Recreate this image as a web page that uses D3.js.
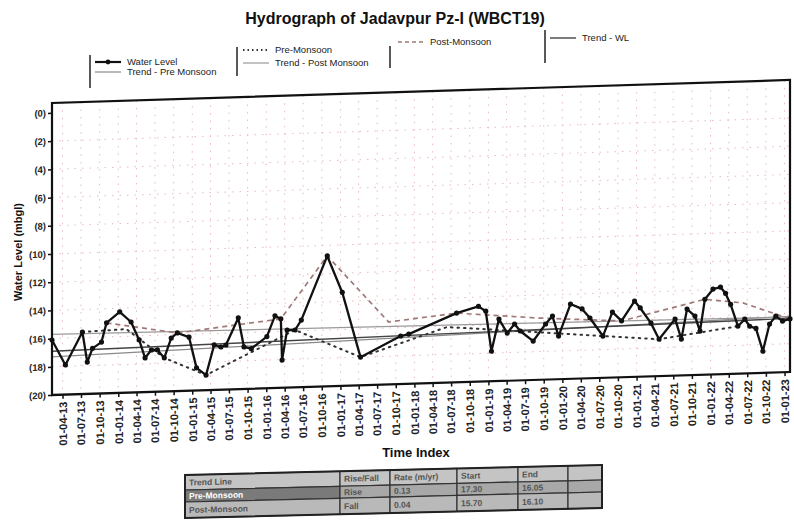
<!DOCTYPE html>
<html>
<head>
<meta charset="utf-8">
<script src="https://cdn.jsdelivr.net/npm/d3@7"></script>
<style>
  body { margin: 0; background: #fff; }
  text { font-family: "Liberation Sans", Arial, sans-serif; }
</style>
</head>
<body>
<svg id="chart" width="794" height="524"></svg>
<script>
// water level readings (mbgl)
const wlDates = [
  "2013-02-08","2013-04-15","2013-07-08","2013-08-01","2013-08-27","2013-10-10","2013-11-04","2014-01-08","2014-03-05","2014-04-14",
  "2014-05-13","2014-06-13","2014-07-13","2014-08-16","2014-09-19","2014-10-19","2014-12-16","2015-01-22","2015-03-10","2015-04-19",
  "2015-05-22","2015-06-16","2015-08-16","2015-09-13","2015-10-19","2016-01-04","2016-02-13","2016-03-13","2016-03-19","2016-04-13",
  "2016-05-22","2016-06-22","2016-10-28","2017-01-10","2017-04-10","2017-10-25","2017-12-04","2018-07-28","2018-11-13","2018-12-19",
  "2019-01-16","2019-02-22","2019-04-04","2019-05-10","2019-06-07","2019-08-10","2019-10-10","2019-11-13","2019-12-13","2020-02-10",
  "2020-04-07","2020-05-16","2020-07-19","2020-09-04","2020-10-19","2020-12-22","2021-01-19","2021-03-13","2021-04-22","2021-07-10",
  "2021-08-10","2021-09-07","2021-10-16","2021-11-10","2021-12-04","2022-01-13","2022-02-19","2022-03-16","2022-04-10","2022-05-16",
  "2022-06-19","2022-07-13","2022-08-13","2022-09-16","2022-10-19","2022-11-19","2022-12-22","2023-01-28"]
const wlValues = [
  16.10,17.90,15.60,17.75,16.78,16.36,15.01,14.26,15.00,16.29,
  17.58,17.03,17.04,17.62,16.23,15.88,16.20,18.40,18.93,16.81,
  16.97,16.84,14.95,17.02,17.16,16.34,14.89,15.11,18.04,15.92,
  15.93,15.24,10.75,13.37,18.00,16.59,16.47,15.09,14.66,15.02,
  17.87,15.60,16.62,15.99,16.50,17.24,16.06,15.51,16.94,14.70,
  15.07,15.73,17.04,15.36,16.01,14.63,15.13,16.23,17.39,15.99,
  17.43,15.31,15.83,16.91,14.66,13.96,13.83,14.29,15.08,16.64,
  16.16,16.67,16.84,18.47,16.56,16.01,16.38,16.24]

const preDates = ["2013-07-08","2014-02-10","2014-08-16","2015-03-10","2016-05-22","2017-04-10","2018-06-10","2018-12-07","2020-07-19","2021-04-22","2022-05-16"]
const preValues = [15.60,15.49,17.62,18.93,15.93,18.00,16.06,16.28,17.04,17.39,16.64]

const postDates = ["2013-11-04","2014-10-19","2016-03-13","2016-10-28","2017-08-27","2018-07-28","2019-09-04","2020-10-19","2021-12-04","2022-06-10","2023-01-28"]
const postValues = [15.01,15.88,15.11,10.75,15.57,15.09,15.62,16.01,14.66,15.00,16.24]

// trend lines, value at start and end of the record
const trendDates = ["2013-02-08","2023-01-28"]
const trendWL = [16.9, 16.2]
const trendPre = [17.3, 16.05]
const trendPost = [15.7, 16.1]

const yTicks = [0,2,4,6,8,10,12,14,16,18,20]
const yTickLabels = ["(0)","(2)","(4)","(6)","(8)","(10)","(12)","(14)","(16)","(18)","(20)"]
const xTickLabels = [
  "01-04-13","01-07-13","01-10-13","01-01-14","01-04-14","01-07-14","01-10-14","01-01-15","01-04-15","01-07-15",
  "01-10-15","01-01-16","01-04-16","01-07-16","01-10-16","01-01-17","01-04-17","01-07-17","01-10-17","01-01-18",
  "01-04-18","01-07-18","01-10-18","01-01-19","01-04-19","01-07-19","01-10-19","01-01-20","01-04-20","01-07-20",
  "01-10-20","01-01-21","01-04-21","01-07-21","01-10-21","01-01-22","01-04-22","01-07-22","01-10-22","01-01-23"]

const tableHead = ["Trend Line","Rise/Fall","Rate (m/yr)","Start","End",""]
const tableRowNames = ["Pre-Monsoon","Post-Monsoon"]

const parse = d3.timeParse("%Y-%m-%d")
const parseTick = d3.timeParse("%d-%m-%y")
const svg = d3.select("#chart")

const x = d3.scaleTime().domain([parse("2013-02-08"), parse("2023-01-28")]).range([52, 790])
const y = d3.scaleLinear().domain([-0.7, 20]).range([103, 395])

// the photographed sheet leans up to the right
const tilt = -0.0312
const plot = svg.append("g").attr("transform", `matrix(1,${tilt},0,1,0,${-tilt * 52})`)

const pts = (ds, vs) => ds.map((d, i) => ({date: parse(d), v: vs[i]}))
const wl = pts(wlDates, wlValues)
const pre = pts(preDates, preValues)
const post = pts(postDates, postValues)
const line = d3.line().x(d => x(d.date)).y(d => y(d.v))

// grid
const tickDates = xTickLabels.map(s => parseTick(s))
plot.append("g").selectAll("line").data(tickDates).join("line")
  .attr("x1", d => x(d)).attr("x2", d => x(d)).attr("y1", 103).attr("y2", 395)
  .attr("stroke", "#e8bcbc").attr("stroke-width", 1).attr("stroke-dasharray", "1.5,6")
plot.append("g").selectAll("line").data(yTicks.slice(1, -1)).join("line")
  .attr("x1", 52).attr("x2", 790).attr("y1", d => y(d)).attr("y2", d => y(d))
  .attr("stroke", "#e8bcbc").attr("stroke-width", 1).attr("stroke-dasharray", "1.5,6")

// axes
const yAxis = plot.append("g").attr("transform", "translate(52,0)")
  .call(d3.axisLeft(y).tickValues(yTicks).tickFormat((d, i) => yTickLabels[i]).tickSize(4).tickPadding(2))
yAxis.select(".domain").remove()
yAxis.selectAll("text").attr("font-size", 9.5).attr("font-weight", "bold").attr("fill", "#222")
yAxis.selectAll("line").attr("stroke", "#111").attr("stroke-width", 1.5)

const xAxis = plot.append("g").attr("transform", "translate(0,395)")
  .call(d3.axisBottom(x).tickValues(tickDates).tickFormat((d, i) => xTickLabels[i]).tickSize(4))
xAxis.select(".domain").remove()
xAxis.selectAll("line").attr("stroke", "#111").attr("stroke-width", 1.5)
xAxis.selectAll("text")
  .attr("y", 0).attr("x", -7).attr("dy", "0.35em")
  .attr("transform", "rotate(-90)").style("text-anchor", "end")
  .attr("font-size", 11).attr("font-weight", "bold").attr("fill", "#222")

// trends
const trend = vals => trendDates.map((d, i) => ({date: parse(d), v: vals[i]}))
plot.append("path").datum(trend(trendPre)).attr("d", line)
  .attr("fill", "none").attr("stroke", "#8a8a8a").attr("stroke-width", 1.2)
plot.append("path").datum(trend(trendPost)).attr("d", line)
  .attr("fill", "none").attr("stroke", "#9a9a9a").attr("stroke-width", 1.2)
plot.append("path").datum(trend(trendWL)).attr("d", line)
  .attr("fill", "none").attr("stroke", "#444").attr("stroke-width", 1.4)

// seasonal series
plot.append("path").datum(post).attr("d", line)
  .attr("fill", "none").attr("stroke", "#a07878").attr("stroke-width", 1.7).attr("stroke-dasharray", "5,4")
plot.append("path").datum(pre).attr("d", line)
  .attr("fill", "none").attr("stroke", "#333").attr("stroke-width", 2).attr("stroke-dasharray", "1.5,5")
  .attr("stroke-linecap", "round")

// water level
plot.append("path").datum(wl).attr("d", line)
  .attr("fill", "none").attr("stroke", "#111").attr("stroke-width", 2.3).attr("stroke-linejoin", "round")
plot.append("g").selectAll("circle").data(wl).join("circle")
  .attr("cx", d => x(d.date)).attr("cy", d => y(d.v)).attr("r", 2.6).attr("fill", "#111")

// frame
plot.append("rect").attr("x", 52).attr("y", 103).attr("width", 738).attr("height", 292)
  .attr("fill", "none").attr("stroke", "#111").attr("stroke-width", 2.2)

// title and axis titles
svg.append("text").attr("x", 395).attr("y", 24).attr("text-anchor", "middle")
  .attr("font-size", 16).attr("font-weight", "bold").attr("fill", "#111")
  .text("Hydrograph of Jadavpur Pz-I (WBCT19)")
svg.append("text").attr("transform", "translate(22,252) rotate(-90)").attr("text-anchor", "middle")
  .attr("font-size", 11).attr("font-weight", "bold").attr("fill", "#111")
  .text("Water Level (mbgl)")
svg.append("text").attr("x", 416).attr("y", 457).attr("text-anchor", "middle")
  .attr("font-size", 13).attr("font-weight", "bold").attr("fill", "#111")
  .text("Time Index")

// legend
const leg = svg.append("g")
const sep = (lx, y1, y2) => leg.append("line").attr("x1", lx).attr("x2", lx).attr("y1", y1).attr("y2", y2)
  .attr("stroke", "#222").attr("stroke-width", 1.5)
sep(90, 55, 88); sep(237, 47, 76); sep(390, 46, 68); sep(545, 30, 63)
const item = (lx, ly, label, stroke, width, dash, marker) => {
  leg.append("line").attr("x1", lx).attr("x2", lx + 26).attr("y1", ly).attr("y2", ly)
    .attr("stroke", stroke).attr("stroke-width", width).attr("stroke-dasharray", dash || null)
  if (marker) leg.append("circle").attr("cx", lx + 13).attr("cy", ly).attr("r", 2.4).attr("fill", stroke)
  leg.append("text").attr("x", lx + 32).attr("y", ly + 3).attr("font-size", 9.5).attr("fill", "#222").text(label)
}
item(95, 62, "Water Level", "#111", 2.2, null, true)
item(95, 72, "Trend - Pre Monsoon", "#8a8a8a", 1.2)
item(243, 50, "Pre-Monsoon", "#333", 2, "1.5,3")
item(243, 63, "Trend - Post Monsoon", "#9a9a9a", 1.2)
item(398, 42, "Post-Monsoon", "#a07878", 1.6, "4,3")
item(550, 38, "Trend - WL", "#444", 1.4)

// summary table under the chart
const colW = [155, 50, 67, 61, 50, 34]
const rowH = [15, 12, 16]
const years = (parse(trendDates[1]) - parse(trendDates[0])) / (365.25 * 864e5)
const rowCells = [trendPre, trendPost].map((t, i) => {
  const rate = (t[0] - t[1]) / years
  return [tableRowNames[i], rate > 0 ? "Rise" : "Fall", Math.abs(rate).toFixed(2), t[0].toFixed(2), t[1].toFixed(2), ""]
})
const cells = [tableHead, ...rowCells]
const rowFill = ["#c4c4c4", "#7a7a7a", "#b9b9b9"]
const rowText = ["#555", "#fff", "#555"]
const tbl = svg.append("g").attr("transform", "matrix(1,-0.024,0,1,185,475)")
let ty = 0
cells.forEach((row, r) => {
  let tx = 0
  row.forEach((c, k) => {
    tbl.append("rect").attr("x", tx).attr("y", ty).attr("width", colW[k]).attr("height", rowH[r])
      .attr("fill", k === 0 || r !== 1 ? rowFill[r] : "#a8a8a8").attr("stroke", "#333").attr("stroke-width", 1.2)
    tbl.append("text").attr("x", tx + 4).attr("y", ty + rowH[r] / 2 + 3)
      .attr("font-size", 8.5).attr("font-weight", "bold")
      .attr("fill", k === 0 || r !== 1 ? rowText[r] : "#555").text(c)
    tx += colW[k]
  })
  ty += rowH[r]
})
tbl.append("rect").attr("x", 0).attr("y", 0).attr("width", d3.sum(colW)).attr("height", d3.sum(rowH))
  .attr("fill", "none").attr("stroke", "#222").attr("stroke-width", 2)
</script>
</body>
</html>
